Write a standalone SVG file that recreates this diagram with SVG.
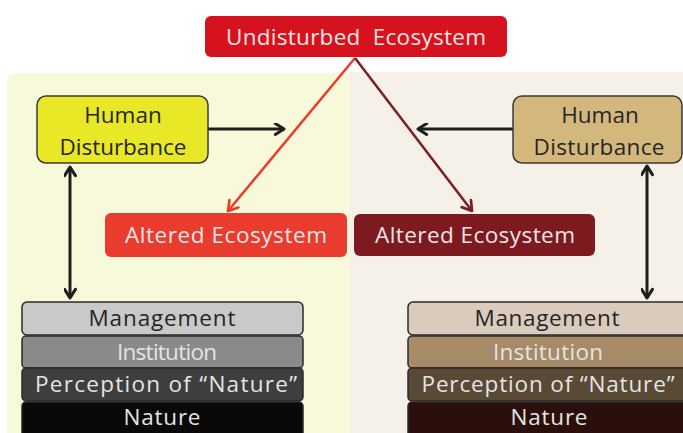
<svg xmlns="http://www.w3.org/2000/svg" width="683" height="433" viewBox="0 0 683 433">
  <defs>
    <style>
      text { font-family: "Open Sans", "Noto Sans", "DejaVu Sans", sans-serif; font-size: 22.5px; text-anchor: middle; }
      .dark { fill: #262626; }
      .light { fill: #f4e4e4; }
      .pale { fill: #e4e4e4; }
      .box { stroke: #3a3a3a; stroke-width: 1.5; }
      .row { stroke: #2a2a2a; stroke-width: 1.5; }
      .blk { fill: none; stroke: #1e1e1e; stroke-width: 3; }
    </style>
    <marker id="headBlack" viewBox="0 0 12 12" refX="10" refY="6" markerWidth="13" markerHeight="13" markerUnits="userSpaceOnUse" orient="auto-start-reverse">
      <path d="M2,1 L10,6 L2,11" fill="none" stroke="#1e1e1e" stroke-width="2.8" stroke-linecap="round" stroke-linejoin="round"/>
    </marker>
    <marker id="headRed" viewBox="0 0 12 12" refX="10" refY="6" markerWidth="14" markerHeight="14" markerUnits="userSpaceOnUse" orient="auto">
      <path d="M2,1 L10,6 L2,11" fill="none" stroke="#ec3b2c" stroke-width="2.3" stroke-linecap="round" stroke-linejoin="round"/>
    </marker>
    <marker id="headMaroon" viewBox="0 0 12 12" refX="10" refY="6" markerWidth="14" markerHeight="14" markerUnits="userSpaceOnUse" orient="auto">
      <path d="M2,1 L10,6 L2,11" fill="none" stroke="#7c1d24" stroke-width="2.3" stroke-linecap="round" stroke-linejoin="round"/>
    </marker>
  </defs>

  <rect width="683" height="433" fill="#ffffff"/>

  <!-- two scenario panels -->
  <path d="M350,73 L17,73 Q7,73 7,83 L7,433 L350,433 Z" fill="#f8f8db"/>
  <rect x="350" y="72" width="333" height="361" fill="#f5f1e9"/>

  <!-- connectors -->
  <g id="connectors">
    <line x1="355" y1="58" x2="228" y2="211" stroke="#ec3b2c" stroke-width="2.5" marker-end="url(#headRed)"/>
    <line x1="355" y1="58" x2="472" y2="211" stroke="#7c1d24" stroke-width="2.5" marker-end="url(#headMaroon)"/>
    <line class="blk" x1="208" y1="129" x2="284" y2="129" marker-end="url(#headBlack)"/>
    <line class="blk" x1="513" y1="129" x2="418" y2="129" marker-end="url(#headBlack)"/>
    <line class="blk" x1="70" y1="167" x2="70" y2="298" marker-start="url(#headBlack)" marker-end="url(#headBlack)"/>
    <line class="blk" x1="647" y1="166" x2="647" y2="298" marker-start="url(#headBlack)" marker-end="url(#headBlack)"/>
  </g>

  <g id="undisturbed">
    <rect x="205" y="16" width="302" height="41" rx="6" fill="#d7121f"/>
    <text x="356" y="45" class="light" textLength="260" lengthAdjust="spacing" word-spacing="6">Undisturbed Ecosystem</text>
  </g>

  <g id="human-left">
    <rect class="box" x="37" y="96" width="171" height="67" rx="9" fill="#e8e827"/>
    <text x="123" y="123" class="dark">Human</text>
    <text x="123" y="155" class="dark" textLength="127" lengthAdjust="spacing">Disturbance</text>
  </g>

  <g id="human-right">
    <rect class="box" x="513" y="96" width="169" height="67" rx="9" fill="#d4b77d"/>
    <text x="600" y="123" class="dark">Human</text>
    <text x="599" y="155" class="dark" textLength="131" lengthAdjust="spacing">Disturbance</text>
  </g>

  <g id="altered-left">
    <rect x="105" y="213" width="242" height="44" rx="6" fill="#e93c2f"/>
    <text x="226" y="243" class="light" textLength="202" lengthAdjust="spacing">Altered Ecosystem</text>
  </g>

  <g id="altered-right">
    <rect x="354" y="214" width="241" height="42" rx="6" fill="#7c1a20"/>
    <text x="475" y="243" class="light" textLength="200" lengthAdjust="spacing">Altered Ecosystem</text>
  </g>

  <!-- left layered stack -->
  <g id="stack-left-management">
    <rect class="row" x="22" y="302" width="281" height="33" rx="5" fill="#c9c9c9"/>
    <text x="162" y="326" class="dark" textLength="147" lengthAdjust="spacing">Management</text>
  </g>
  <g id="stack-left-institution">
    <rect class="row" x="22" y="336" width="281" height="32" rx="4" fill="#8a8a8a"/>
    <text x="167" y="360" class="pale" textLength="100" lengthAdjust="spacing">Institution</text>
  </g>
  <g id="stack-left-perception">
    <rect class="row" x="22" y="368" width="281" height="33" rx="4" fill="#3e3e3e"/>
    <text x="166" y="392" class="pale" textLength="262" lengthAdjust="spacing">Perception of “Nature”</text>
  </g>
  <g id="stack-left-nature">
    <rect class="row" x="22" y="402" width="281" height="36" rx="4" fill="#080808"/>
    <text x="162" y="425" class="pale" textLength="77" lengthAdjust="spacing">Nature</text>
  </g>

  <!-- right layered stack -->
  <g id="stack-right-management">
    <rect class="row" x="408" y="302" width="284" height="33" rx="5" fill="#dbcbbd"/>
    <text x="547" y="326" class="dark" textLength="145" lengthAdjust="spacing">Management</text>
  </g>
  <g id="stack-right-institution">
    <rect class="row" x="408" y="336" width="284" height="32" rx="4" fill="#a78a66"/>
    <text x="548" y="360" class="pale" textLength="110" lengthAdjust="spacing">Institution</text>
  </g>
  <g id="stack-right-perception">
    <rect class="row" x="408" y="368" width="284" height="33" rx="4" fill="#594a36"/>
    <text x="548" y="392" class="pale" textLength="253" lengthAdjust="spacing">Perception of “Nature”</text>
  </g>
  <g id="stack-right-nature">
    <rect class="row" x="408" y="402" width="284" height="36" rx="4" fill="#2a0f0a"/>
    <text x="549" y="425" class="pale" textLength="77" lengthAdjust="spacing">Nature</text>
  </g>
</svg>
